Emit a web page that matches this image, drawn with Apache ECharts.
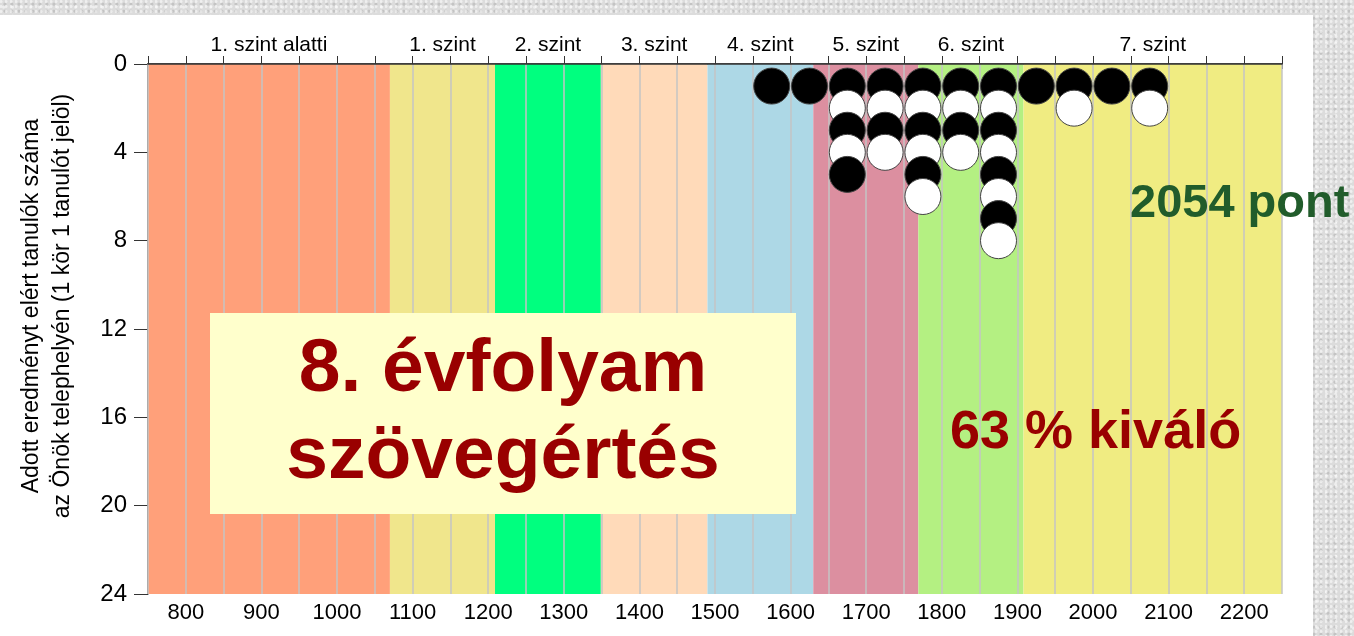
<!DOCTYPE html>
<html>
<head>
<meta charset="utf-8">
<script src="https://cdn.jsdelivr.net/npm/echarts@6/dist/echarts.min.js"></script>
<style>
  html, body { margin:0; padding:0; width:1354px; height:636px; overflow:hidden; }
  body {
    background-color:#dcdcdc;
    background-image:
      radial-gradient(circle at 20% 30%, rgba(255,255,255,0.55) 0 1px, transparent 2px),
      radial-gradient(circle at 70% 60%, rgba(170,170,170,0.5) 0 1px, transparent 2px),
      radial-gradient(circle at 40% 80%, rgba(255,255,255,0.5) 0 1px, transparent 2px);
    background-size: 5px 5px, 7px 7px, 9px 9px;
  }
  #panel { position:absolute; left:0; top:15px; width:1313px; height:621px; background:#ffffff; }
  #chart { position:absolute; left:0; top:0; width:1354px; height:636px; }
</style>
</head>
<body>
<div id="panel"></div>
<div id="chart"></div>
<script>
// ---- data ----
const levelNames = ['1. szint alatti', '1. szint', '2. szint', '3. szint', '4. szint', '5. szint', '6. szint', '7. szint'];
const levelBounds = [750, 1070, 1209, 1349, 1490, 1630, 1769, 1908, 2250];
const binCenters = [1575, 1625, 1675, 1725, 1775, 1825, 1875, 1925, 1975, 2025, 2075];
const binCounts  = [1, 1, 5, 4, 6, 4, 8, 1, 2, 1, 2];
const yMax = 24;

// ---- styles ----
const levelColors = ['#FFA07A', '#F0E68C', '#00FF7F', '#FFDAB9', '#ADD8E6', '#DC8FA0', '#B4F082', '#F0EC82'];
const FONT = '"Liberation Sans", Arial, Helvetica, sans-serif';

const bandData = levelNames.map((n, i) => [levelBounds[i], levelBounds[i + 1], i]);

const dots = [];
binCenters.forEach((x, i) => {
  for (let k = 1; k <= binCounts[i]; k++) {
    dots.push({ value: [x, k], itemStyle: { color: (k % 2 === 1) ? '#000000' : '#ffffff' } });
  }
});

const chart = echarts.init(document.getElementById('chart'), null, { renderer: 'canvas' });
chart.setOption({
  backgroundColor: 'transparent',
  animation: false,
  grid: { left: 148, right: 72, top: 64, bottom: 42, containLabel: false },
  xAxis: [
    {
      type: 'value', position: 'bottom', min: 750, max: 2250, interval: 50,
      axisLine: { show: true, lineStyle: { color: '#333', width: 1.5 } },
      axisTick: { show: true, inside: false, length: 5, lineStyle: { color: '#333' } },
      axisLabel: {
        show: true, margin: 8, fontSize: 22, color: '#000', fontFamily: FONT,
        formatter: v => (v % 100 === 0 ? String(v) : '')
      },
      splitLine: { show: false }
    },
    {
      type: 'value', position: 'top', min: 750, max: 2250, interval: 50, z: 3,
      axisLine: { show: true, lineStyle: { color: '#333', width: 1.5 } },
      axisTick: { show: true, inside: false, length: 8, lineStyle: { color: '#333' } },
      axisLabel: { show: false },
      splitLine: { show: true, lineStyle: { color: '#C4C4C4', width: 1.5 } }
    }
  ],
  yAxis: {
    type: 'value', inverse: true, min: 0, max: yMax, interval: 4,
    axisLine: { show: true, lineStyle: { color: '#333', width: 1.5 } },
    axisTick: { show: true, inside: false, length: 14, lineStyle: { color: '#333' } },
    axisLabel: { show: true, margin: 21, fontSize: 24, color: '#000', fontFamily: FONT },
    splitLine: { show: false }
  },
  series: [
    {
      type: 'custom', xAxisIndex: 0, z: 1, silent: true, clip: false,
      encode: { x: [0, 1] },
      data: bandData,
      renderItem: function (params, api) {
        const x0 = api.value(0), x1 = api.value(1), i = api.value(2);
        const p0 = api.coord([x0, 0]);
        const p1 = api.coord([x1, yMax]);
        return {
          type: 'group',
          children: [
            { type: 'rect', shape: { x: p0[0], y: p0[1], width: p1[0] - p0[0], height: p1[1] - p0[1] },
              style: { fill: levelColors[i] } },
            { type: 'text', style: { text: levelNames[i], x: (p0[0] + p1[0]) / 2, y: p0[1] - 8,
                align: 'center', verticalAlign: 'bottom', font: '21px ' + FONT, fill: '#000' } }
          ]
        };
      }
    },
    {
      type: 'scatter', xAxisIndex: 0, z: 5, silent: true,
      symbol: 'circle', symbolSize: 36,
      itemStyle: { borderColor: '#444', borderWidth: 1, opacity: 1 },
      data: dots
    }
  ],
  graphic: [
    {
      type: 'text', x: 47, y: 306, rotation: Math.PI / 2, z: 10,
      style: {
        text: 'Adott eredményt elért tanulók száma\naz Önök telephelyén (1 kör 1 tanulót jelöl)',
        font: '23px ' + FONT, fill: '#000', align: 'center', verticalAlign: 'middle',
        textAlign: 'center', textVerticalAlign: 'middle', lineHeight: 31
      }
    },
    {
      type: 'rect', z: 10, shape: { x: 210, y: 313, width: 586, height: 201 },
      style: { fill: '#FFFFCC' }
    },
    {
      type: 'text', x: 503, y: 414, z: 11,
      style: {
        text: '8. évfolyam\nszövegértés', font: 'bold 75px ' + FONT, fill: '#990000',
        align: 'center', verticalAlign: 'middle', textAlign: 'center', textVerticalAlign: 'middle',
        lineHeight: 87
      }
    },
    {
      type: 'text', x: 1130, y: 204, z: 11,
      style: { text: '2054 pont', font: 'bold 47px ' + FONT, fill: '#215C2B',
        align: 'left', verticalAlign: 'middle', textAlign: 'left', textVerticalAlign: 'middle' }
    },
    {
      type: 'text', x: 950, y: 433, z: 11,
      style: { text: '63 % kiváló', font: 'bold 54px ' + FONT, fill: '#990000',
        align: 'left', verticalAlign: 'middle', textAlign: 'left', textVerticalAlign: 'middle' }
    }
  ]
});
</script>
</body>
</html>
